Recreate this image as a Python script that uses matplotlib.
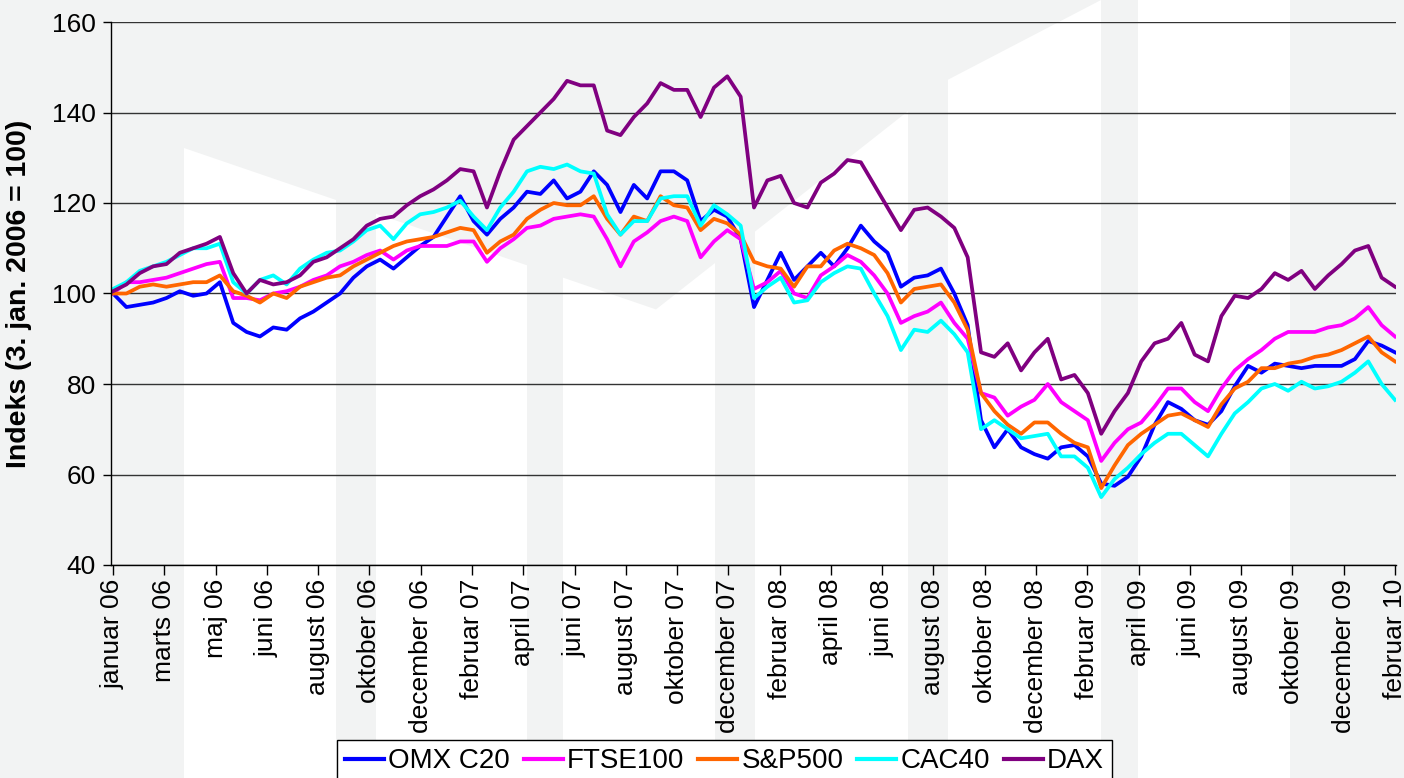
"""Stock index comparison chart (OMX C20, FTSE100, S&P500, CAC40, DAX), 2006-2010."""

import matplotlib
matplotlib.use("Agg")
import matplotlib.pyplot as plt
import numpy as np
from matplotlib.patches import Polygon

plt.rcParams['font.family'] = ['Liberation Sans', 'DejaVu Sans']

# Tick labels along the x axis (one per label unit)
month_labels = [
    "januar 06", "marts 06", "maj 06", "juni 06", "august 06", "oktober 06",
    "december 06", "februar 07", "april 07", "juni 07", "august 07", "oktober 07",
    "december 07", "februar 08", "april 08", "juni 08", "august 08", "oktober 08",
    "december 08", "februar 09", "april 09", "juni 09", "august 09", "oktober 09",
    "december 09", "februar 10",
]

# Index values at 97 evenly spaced dates
omx = [100, 97, 97.5, 98, 99, 100.5, 99.5, 100, 102.5, 93.5, 91.5, 90.5, 92.5, 92, 94.5, 96, 98,
       100, 103.5, 106, 107.5, 105.5, 108, 110.5, 112.5, 117, 121.5, 116, 113, 116.5, 119, 122.5, 122, 125,
       121, 122.5, 127, 124, 118, 124, 121, 127, 127, 125, 116, 118.5, 117, 112, 97, 103,
       109, 103, 106, 109, 106, 110, 115, 111.5, 109, 101.5, 103.5, 104, 105.5, 100, 93, 72,
       66, 70, 66, 64.5, 63.5, 66, 66.5, 64, 58, 57.5, 59.5, 64, 71, 76, 74.5, 72,
       71, 74, 79.5, 84, 82.5, 84.5, 84, 83.5, 84, 84, 84, 85.5, 89.5, 88.5, 87]
ftse = [100, 102.5, 102.5, 103, 103.5, 104.5, 105.5, 106.5, 107, 99, 99, 98.5, 100, 100.5, 101.5, 103, 104,
        106, 107, 108.5, 109.5, 107.5, 109.5, 110.5, 110.5, 110.5, 111.5, 111.5, 107, 110, 112, 114.5, 115, 116.5,
        117, 117.5, 117, 112, 106, 111.5, 113.5, 116, 117, 116, 108, 111.5, 114, 112, 101, 102.5,
        105, 100, 99, 104, 106, 108.5, 107, 104, 100, 93.5, 95, 96, 98, 93.5, 90, 78,
        77, 73, 75, 76.5, 80, 76, 74, 72, 63, 67, 70, 71.5, 75, 79, 79, 76,
        74, 79, 83, 85.5, 87.5, 90, 91.5, 91.5, 91.5, 92.5, 93, 94.5, 97, 93, 90.5]
sp500 = [100, 100, 101.5, 102, 101.5, 102, 102.5, 102.5, 104, 100.5, 99.5, 98, 100, 99, 101.5, 102.5, 103.5,
         104, 106, 107.5, 109, 110.5, 111.5, 112, 112.5, 113.5, 114.5, 114, 109, 111.5, 113, 116.5, 118.5, 120,
         119.5, 119.5, 121.5, 116.5, 113, 117, 116, 121.5, 119.5, 119, 114, 116.5, 115.5, 113, 107, 106,
         105.5, 101.5, 106, 106, 109.5, 111, 110, 108.5, 104.5, 98, 101, 101.5, 102, 98, 92, 78,
         74, 71, 69, 71.5, 71.5, 69, 67, 66, 57, 62, 66.5, 69, 71, 73, 73.5, 72,
         70.5, 75.5, 79, 80.5, 83.5, 83.5, 84.5, 85, 86, 86.5, 87.5, 89, 90.5, 87, 85]
cac40 = [101, 102.5, 105, 106, 107, 108.5, 110, 110, 111, 102.5, 100, 103, 104, 102, 105.5, 107.5, 109,
         109.5, 111.5, 114, 115, 112, 115.5, 117.5, 118, 119, 120.5, 117, 114, 119, 122.5, 127, 128, 127.5,
         128.5, 127, 126.5, 117.5, 113, 116, 116, 121, 121.5, 121.5, 115, 119.5, 117.5, 115, 99, 101.5,
         103.5, 98, 98.5, 102.5, 104.5, 106, 105.5, 100, 95, 87.5, 92, 91.5, 94, 91, 87, 70,
         72, 70, 68, 68.5, 69, 64, 64, 61.5, 55, 59, 61.5, 64.5, 67, 69, 69, 66.5,
         64, 69, 73.5, 76, 79, 80, 78.5, 80.5, 79, 79.5, 80.5, 82.5, 85, 80, 76.5]
dax = [100.5, 102, 104.5, 106, 106.5, 109, 110, 111, 112.5, 104.5, 100, 103, 102, 102.5, 104, 107, 108,
       110, 112, 115, 116.5, 117, 119.5, 121.5, 123, 125, 127.5, 127, 119, 127, 134, 137, 140, 143,
       147, 146, 146, 136, 135, 139, 142, 146.5, 145, 145, 139, 145.5, 148, 143.5, 119, 125,
       126, 120, 119, 124.5, 126.5, 129.5, 129, 124, 119, 114, 118.5, 119, 117, 114.5, 108, 87,
       86, 89, 83, 87, 90, 81, 82, 78, 69, 74, 78, 85, 89, 90, 93.5, 86.5,
       85, 95, 99.5, 99, 101, 104.5, 103, 105, 101, 104, 106.5, 109.5, 110.5, 103.5, 101.5]

series_names = ["OMX C20", "FTSE100", "S&P500", "CAC40", "DAX"]
series_colors = ["#0000ff", "#ff00ff", "#ff6600", "#00ffff", "#800080"]

W, H = 1404, 778


def v_top(x):
    """Top edge (pixel y from top) of the faint background logo."""
    left = 148 + 0.342 * (x - 184)
    right = 230 - 0.787 * (x - 757)
    return max(min(left, right), 0)


def add_watermark(fig):
    # light grey background with white columns below a V-shaped edge
    columns = [(184, 336), (376, 527), (563, 715), (755, 908), (948, 1101), (1138, 1290)]
    for x0, x1 in columns:
        xs = [x0] + ([656] if x0 < 656 < x1 else []) + [x1]
        top = [(x, H - v_top(x)) for x in xs]
        pts = [(x0, 0)] + top + [(x1, 0)]
        fig.add_artist(Polygon(pts, closed=True, transform=None, facecolor="white",
                               edgecolor="none", zorder=-10))


fig = plt.figure(figsize=(W / 100, H / 100), dpi=100)
fig.patch.set_facecolor("#f2f3f3")
add_watermark(fig)

ax = fig.add_axes([111 / W, 1 - 565 / H, (1396 - 111) / W, (565 - 22) / H])
ax.set_facecolor("none")

n_labels = len(month_labels) - 1
x = np.linspace(0, n_labels, len(omx))
for name, vals, col in zip(series_names, [omx, ftse, sp500, cac40, dax], series_colors):
    ax.plot(x, vals, color=col, lw=2.7, label=name, solid_joinstyle="round")

ax.set_ylim(40, 160)
ax.set_xlim(-0.04, n_labels + 0.02)
ax.set_yticks(np.arange(40, 161, 20))
ax.tick_params(axis="y", labelsize=19, length=6, width=1, direction="out", pad=5)
ax.set_xticks(np.arange(len(month_labels)))
ax.set_xticklabels(month_labels, rotation=90)
ax.tick_params(axis="x", labelsize=19, length=7, width=1, direction="out", pad=3)

ax.grid(axis="y", color="#333333", lw=1)
ax.set_axisbelow(True)
for side in ["top", "right"]:
    ax.spines[side].set_visible(False)
for side in ["left", "bottom"]:
    ax.spines[side].set_color("black")
    ax.spines[side].set_linewidth(1)

ax.set_ylabel("Indeks (3. jan. 2006 = 100)", fontsize=20.5, fontweight="bold", labelpad=14)

leg = fig.legend(loc="upper left", bbox_to_anchor=(337 / W, 1 - 740 / H), ncol=5,
                 fontsize=20, handlelength=1.4, handletextpad=0.15, columnspacing=0.5,
                 borderpad=0.3, borderaxespad=0, fancybox=False, framealpha=1)
leg.get_frame().set_edgecolor("black")
leg.get_frame().set_linewidth(1)
for line in leg.get_lines():
    line.set_linewidth(3)

fig.savefig("out.png", dpi=100, facecolor=fig.get_facecolor())
